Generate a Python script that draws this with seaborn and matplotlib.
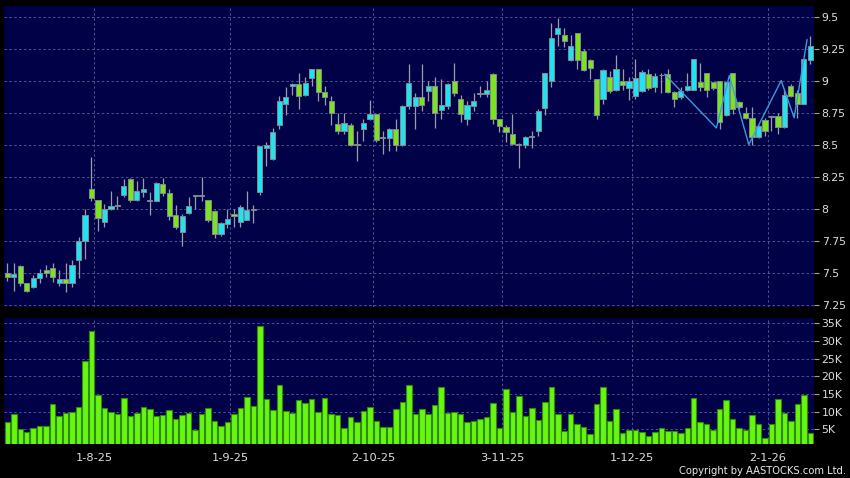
import numpy as np
import matplotlib
matplotlib.use("Agg")
import matplotlib.pyplot as plt
import seaborn as sns

# ---- data (one entry per trading day) ----
opens = [7.50, 7.47, 7.55, 7.42, 7.39, 7.46, 7.52, 7.54, 7.42, 7.45,
         7.42, 7.60, 7.75, 8.15, 8.07, 7.90, 8.00, 8.02, 8.11, 8.23,
         8.07, 8.13, 8.06, 8.06, 8.19, 8.12, 7.95, 7.82, 7.97, 8.10,
         8.10, 8.07, 7.98, 7.80, 7.88, 7.96, 7.90, 7.91, 7.99, 8.13,
         8.47, 8.39, 8.65, 8.82, 8.96, 8.97, 8.89, 9.02, 9.09, 8.91,
         8.84, 8.66, 8.61, 8.65, 8.50, 8.62, 8.70, 8.74, 8.55, 8.55,
         8.62, 8.50, 8.80, 8.80, 8.875, 8.92, 8.96, 8.77, 8.80, 9.00,
         8.855, 8.70, 8.80, 8.895, 8.895, 9.055, 8.70, 8.64, 8.58, 8.505,
         8.495, 8.56, 8.61, 8.785, 9.00, 9.36, 9.355, 9.16, 9.375, 9.23,
         9.16, 9.015, 8.86, 9.03, 8.93, 9.00, 8.945, 8.88, 8.92, 9.05,
         8.95, 9.04, 9.05, 8.91, 8.875, 8.925, 8.93, 8.99, 9.06, 8.985,
         9.00, 8.735, 9.06, 8.835, 8.745, 8.71, 8.56, 8.69, 8.715, 8.72,
         8.64, 8.96, 8.90, 8.82, 9.16]
closes = [7.47, 7.49, 7.42, 7.36, 7.46, 7.50, 7.50, 7.47, 7.45, 7.42,
          7.56, 7.75, 7.95, 8.08, 7.93, 8.00, 8.02, 8.02, 8.18, 8.07,
          8.14, 8.15, 8.06, 8.20, 8.12, 7.94, 7.86, 7.94, 8.02, 8.10,
          8.11, 7.91, 7.80, 7.89, 7.92, 7.94, 8.01, 7.99, 8.00, 8.49,
          8.50, 8.60, 8.84, 8.875, 8.97, 8.88, 8.98, 9.09, 8.91, 8.87,
          8.75, 8.61, 8.67, 8.50, 8.50, 8.67, 8.74, 8.54, 8.55, 8.62,
          8.50, 8.80, 8.98, 8.875, 8.81, 8.96, 8.75, 8.81, 8.97, 8.90,
          8.74, 8.81, 8.84, 8.895, 8.925, 8.70, 8.645, 8.60, 8.505, 8.50,
          8.56, 8.56, 8.765, 9.06, 9.335, 9.41, 9.31, 9.27, 9.16, 9.08,
          9.10, 8.73, 9.08, 8.92, 9.09, 8.965, 9.00, 9.02, 9.07, 8.945,
          9.035, 9.04, 8.91, 8.86, 8.915, 8.955, 9.17, 8.95, 8.93, 8.945,
          8.68, 8.985, 8.78, 8.79, 8.71, 8.56, 8.645, 8.61, 8.715, 8.64,
          8.89, 8.88, 8.82, 9.17, 9.27]
highs = [7.58, 7.58, 7.56, 7.42, 7.48, 7.53, 7.56, 7.58, 7.52, 7.58,
         7.60, 7.78, 8.00, 8.40, 8.07, 8.04, 8.14, 8.10, 8.23, 8.24,
         8.22, 8.24, 8.13, 8.21, 8.24, 8.15, 8.03, 7.96, 8.09, 8.10,
         8.25, 8.07, 7.99, 7.90, 8.00, 8.00, 8.03, 8.14, 8.03, 8.49,
         8.52, 8.63, 8.88, 8.95, 8.98, 9.06, 9.03, 9.09, 9.09, 8.96,
         8.88, 8.75, 8.75, 8.67, 8.61, 8.70, 8.85, 8.74, 8.61, 8.63,
         8.70, 8.81, 9.13, 8.90, 9.13, 9.00, 9.03, 9.01, 8.98, 9.14,
         8.89, 8.84, 8.90, 8.96, 9.00, 9.06, 8.70, 8.65, 8.74, 8.51,
         8.57, 8.61, 8.78, 9.06, 9.45, 9.49, 9.41, 9.355, 9.375, 9.245,
         9.17, 9.015, 9.09, 9.075, 9.20, 9.09, 9.03, 9.17, 9.08, 9.09,
         9.06, 9.06, 9.09, 8.92, 8.95, 9.06, 9.17, 9.135, 9.06, 8.985,
         9.00, 8.985, 9.06, 8.84, 8.79, 8.79, 8.65, 8.71, 8.72, 8.75,
         8.93, 8.97, 8.93, 9.17, 9.35]
lows = [7.435, 7.357, 7.40, 7.35, 7.38, 7.42, 7.47, 7.43, 7.40, 7.35,
        7.39, 7.46, 7.61, 8.06, 7.83, 7.86, 7.99, 8.00, 8.09, 8.05,
        8.06, 8.09, 7.95, 8.06, 8.10, 7.91, 7.84, 7.71, 7.96, 8.00,
        8.06, 7.90, 7.77, 7.79, 7.85, 7.86, 7.86, 7.91, 7.89, 8.11,
        8.33, 8.38, 8.62, 8.73, 8.89, 8.78, 8.88, 8.96, 8.84, 8.81,
        8.65, 8.58, 8.58, 8.49, 8.37, 8.53, 8.69, 8.52, 8.43, 8.45,
        8.45, 8.49, 8.78, 8.62, 8.76, 8.84, 8.63, 8.70, 8.78, 8.88,
        8.68, 8.65, 8.76, 8.875, 8.875, 8.66, 8.60, 8.52, 8.50, 8.32,
        8.47, 8.47, 8.57, 8.73, 8.95, 9.27, 9.265, 9.155, 9.09, 9.075,
        9.01, 8.70, 8.815, 8.905, 8.92, 8.93, 8.85, 8.86, 8.91, 8.93,
        8.91, 8.905, 8.90, 8.79, 8.86, 8.92, 8.93, 8.92, 8.875, 8.93,
        8.625, 8.72, 8.74, 8.78, 8.70, 8.50, 8.55, 8.57, 8.61, 8.58,
        8.63, 8.87, 8.71, 8.815, 9.13]
volume_k = [7.1, 9.2, 5.1, 4.2, 5.3, 6.0, 6.0, 12.0, 8.8, 9.5,
            9.8, 11.4, 24.4, 32.7, 14.8, 11.0, 9.8, 9.3, 13.7, 8.6,
            9.5, 11.3, 10.8, 8.6, 8.9, 10.4, 8.0, 9.0, 9.6, 4.9,
            9.2, 10.9, 7.4, 6.0, 6.9, 9.2, 10.9, 14.2, 11.7, 34.3,
            13.6, 10.4, 17.5, 10.1, 9.6, 13.3, 12.5, 13.5, 9.9, 13.7,
            9.4, 8.9, 5.2, 8.4, 6.9, 10.1, 11.4, 7.2, 5.7, 5.7,
            10.7, 12.8, 17.5, 9.2, 10.8, 9.3, 11.8, 17.0, 9.6, 9.9,
            9.4, 7.1, 7.3, 8.0, 8.5, 12.4, 5.4, 16.3, 9.8, 14.3,
            8.8, 10.9, 7.7, 12.6, 17.0, 9.4, 4.4, 9.3, 6.4, 5.7,
            3.7, 12.0, 16.9, 7.2, 10.8, 3.9, 4.9, 4.9, 4.1, 3.2,
            4.1, 5.4, 4.4, 4.4, 3.8, 5.2, 13.8, 7.0, 6.5, 4.9,
            10.8, 13.3, 7.8, 5.4, 4.8, 9.0, 6.4, 2.5, 6.4, 13.5,
            9.6, 7.4, 12.0, 14.6, 3.8]

# zigzag overlay (bar index, price)
zigzag_idx = [101, 109, 111, 114, 119, 121, 123]
zigzag_price = [9.05, 8.63, 9.04, 8.50, 9.00, 8.71, 9.32]

date_labels = ['1-8-25', '1-9-25', '2-10-25', '3-11-25', '1-12-25', '2-1-26']
date_idx = [13, 34, 56, 76, 96, 117]
price_ticks = [7.25, 7.5, 7.75, 8, 8.25, 8.5, 8.75, 9, 9.25, 9.5]
price_labels = ['7.25', '7.5', '7.75', '8', '8.25', '8.5', '8.75', '9', '9.25', '9.5']
vol_ticks = [5000, 10000, 15000, 20000, 25000, 30000, 35000]
vol_labels = ['5K', '10K', '15K', '20K', '25K', '30K', '35K']

# ---- style ----
NAVY = '#010148'
UP = '#1ee4f2'
DOWN = '#7ce41f'
GRID = '#52528e'
TXT = '#dedede'

sns.set_style("dark", rc={"axes.facecolor": NAVY, "figure.facecolor": "black",
                          "axes.edgecolor": NAVY, "axes.grid": False})
plt.rcParams['font.family'] = ['DejaVu Sans']

o = np.array(opens)
c = np.array(closes)
h = np.array(highs)
l = np.array(lows)
vol = np.array(volume_k) * 1000
idx = np.arange(len(o))

fig = plt.figure(figsize=(8.5, 4.78), dpi=100)
fig.patch.set_facecolor('black')
ax = fig.add_axes([4 / 850, 1 - 307 / 478, 810 / 850, 301 / 478])
axv = fig.add_axes([4 / 850, 1 - 443.5 / 478, 810 / 850, 125.5 / 478])


def style_axis(a, yticks, ylabels):
    a.set_facecolor(NAVY)
    for s in a.spines.values():
        s.set_visible(False)
    a.yaxis.tick_right()
    a.set_yticks(yticks)
    a.set_yticklabels(ylabels)
    a.set_xticks([i + 0.45 for i in date_idx])
    a.tick_params(axis='y', colors='#a0a0a0', labelcolor=TXT, labelsize=7.8,
                  length=3.5, width=0.8, pad=2, direction='out')
    for y in yticks:
        a.axhline(y, color=GRID, lw=0.7, dashes=(2.5, 2.5), zorder=1)
    for x in date_idx:
        a.axvline(x + 0.45, color=GRID, lw=0.7, dashes=(2.5, 2.5), zorder=1)
    a.set_xlim(-0.51, 124.57)


# ---- candles ----
style_axis(ax, price_ticks, price_labels)
ax.tick_params(axis='x', bottom=False, labelbottom=False)
ax.vlines(idx, l, h, color='#9c9ca8', lw=0.9, zorder=2)
doji = np.abs(c - o) < 0.004
colors = np.where(doji, '#a8a8a8', np.where(c > o, UP, DOWN))
bottoms = np.minimum(o, c)
heights = np.maximum(np.abs(c - o), 0.006)
ax.bar(idx, heights, bottom=bottoms, width=0.8, color=colors,
       edgecolor='#7f8a90', linewidth=0.7, zorder=3)
ax.plot(np.array(zigzag_idx) + 0.5, zigzag_price, color='#3b9be0', lw=1.0, zorder=4)
ax.set_ylim(7.233, 9.582)

# ---- volume ----
sns.barplot(x=idx, y=vol, native_scale=True, color='#66f612', saturation=1,
            width=0.85, edgecolor='#2f8a08', linewidth=0.8, ax=axv, zorder=3)
style_axis(axv, vol_ticks, vol_labels)
axv.set_xticklabels(date_labels)
axv.tick_params(axis='x', colors='#a0a0a0', labelcolor=TXT, labelsize=8.2,
                length=3, width=0.8, pad=4)
axv.set_ylim(950, 36500)
axv.set_xlabel('')
axv.set_ylabel('')

fig.text(846 / 850, 1 - 471 / 478, 'Copyright by AASTOCKS.com Ltd.', color='#e8e8e8',
         fontsize=7.2, ha='right', va='center')

fig.savefig('out.png', dpi=100, facecolor='black')
